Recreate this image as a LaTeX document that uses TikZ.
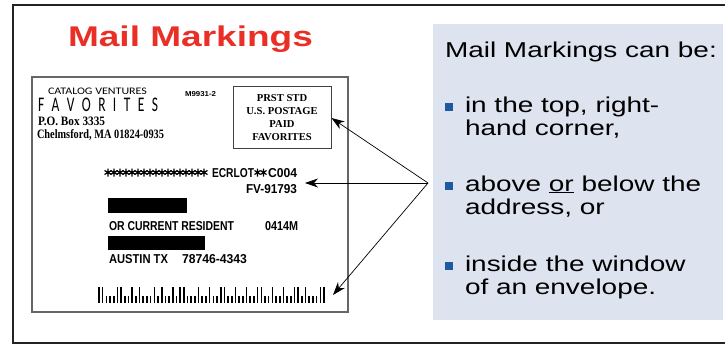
\documentclass[tikz,border=0pt]{standalone}
\usepackage{fontspec}
\setmainfont{Liberation Sans}
\newfontfamily\serifb{Liberation Serif}
\newfontfamily\optfont{Carlito}
\usetikzlibrary{arrows.meta,calc}
\definecolor{boxblue}{RGB}{221,227,239}
\definecolor{bulletblue}{RGB}{30,88,160}
\definecolor{titlered}{RGB}{234,48,38}
\definecolor{framegray}{RGB}{35,35,35}
\newcommand\wide[1]{\scalebox{1.3}[1]{#1}}
\newcommand\fitbox[3]{\resizebox{#1}{#2}{#3}}
\begin{document}
\begin{tikzpicture}[x=1pt,y=-1pt,
  lbl/.style={inner sep=0pt, outer sep=0pt, anchor=base west},
  rtext/.style={lbl, font=\fontsize{21.5}{24}\selectfont},
  bullet/.style={fill=bulletblue, minimum size=8pt, inner sep=0pt, outer sep=0pt},
  pointer/.style={draw=black, line width=0.7pt, -{Stealth[length=13pt,width=9pt,inset=4pt]}},
  astk/.style={line width=1.2pt}
]
\useasboundingbox (0,0) rectangle (725,345);

% outer frame
\draw[framegray, line width=2.6pt] (725,5) -- (13,5) -- (13,343) -- (725,343);

% title
\node[lbl, text=titlered, font=\bfseries\fontsize{28.5}{30}\selectfont] (title) at (68,47) {\wide{Mail Markings}};

% info box
\fill[boxblue] (433,24) rectangle (723,320);
\node[rtext] (head) at (445,57) {\wide{Mail Markings can be:}};
\node[rtext] (i1a) at (465,112) {\wide{in the top, right-}};
\node[rtext] (i1b) at (465,135) {\wide{hand corner,}};
\node[rtext] (i2a) at (465,191) {\wide{above \underline{or} below the}};
\node[rtext] (i2b) at (465,214) {\wide{address, or}};
\node[rtext] (i3a) at (465,271) {\wide{inside the window}};
\node[rtext] (i3b) at (465,294) {\wide{of an envelope.}};
\node[bullet] (b1) at (449,106.5) {};
\node[bullet] (b2) at (449,185.5) {};
\node[bullet] (b3) at (449,265.5) {};

% envelope
\draw[black!60, line width=1.2pt] (32,77) rectangle (348,312);
\node[draw=black!75, line width=0.9pt, minimum width=98pt, minimum height=62pt, inner sep=0pt] (stamp) at (282,117) {};
\node[lbl, anchor=base, font=\serifb\bfseries\fontsize{10.6}{12}\selectfont] (s1) at (282,101) {PRST STD};
\node[lbl, anchor=base, font=\serifb\bfseries\fontsize{10.6}{12}\selectfont] (s2) at (282,114) {U.S. POSTAGE};
\node[lbl, anchor=base, font=\serifb\bfseries\fontsize{10.6}{12}\selectfont] (s3) at (282,127) {PAID};
\node[lbl, anchor=base, font=\serifb\bfseries\fontsize{10.6}{12}\selectfont] (s4) at (282,140) {FAVORITES};

% return address
\node[lbl] (cat) at (48,94) {\fitbox{99pt}{6.5pt}{\optfont CATALOG VENTURES}};
\node[lbl] (fav) at (38,111) {\fitbox{120pt}{13.5pt}{\optfont F\kern.55em A\kern.55em V\kern.55em O\kern.55em R\kern.55em I\kern.55em T\kern.55em E\kern.55em S}};
\node[lbl] (pobox) at (38,125.5) {\fitbox{67pt}{8.5pt}{\serifb\bfseries P.O. Box 3335}};
\node[lbl] (city) at (37,138.5) {\fitbox{127pt}{9pt}{\serifb\bfseries Chelmsford, MA 01824-0935}};
\node[lbl] (code) at (185,96) {\fitbox{31pt}{5pt}{\bfseries M9931-2}};

% address block
\foreach \k in {0,...,16}{
  \pgfmathsetmacro\ax{108+\k*6}
  \draw[astk] (\ax,168.5) -- (\ax,176.5) (\ax-3.5,170.5) -- (\ax+3.5,174.5) (\ax-3.5,174.5) -- (\ax+3.5,170.5);
}
\node[lbl] (ecr) at (212,177) {\fitbox{42pt}{9pt}{\bfseries ECRLOT}};
\foreach \ax in {257.5,263.5}{
  \draw[astk] (\ax,168.5) -- (\ax,176.5) (\ax-3,170.5) -- (\ax+3,174.5) (\ax-3,174.5) -- (\ax+3,170.5);
}
\node[lbl] (c004) at (268,177) {\fitbox{29pt}{9pt}{\bfseries C004}};
\node[lbl] (fv) at (246,193) {\fitbox{51pt}{9pt}{\bfseries FV-91793}};
\fill (108,198) rectangle (187,213);
\node[lbl] (resident) at (109,230) {\fitbox{125pt}{9pt}{\bfseries OR CURRENT RESIDENT}};
\node[lbl] (rt) at (265,230) {\fitbox{33pt}{9pt}{\bfseries 0414M}};
\fill (108,236) rectangle (205,250);
\node[lbl] (austin) at (109,263) {\fitbox{59pt}{9pt}{\bfseries AUSTIN TX}};
\node[lbl] (zip) at (182,263) {\fitbox{65pt}{9pt}{\bfseries 78746-4343}};

% barcode
\foreach \b [count=\i from 0] in {1, 1,0,0,0,1, 1,0,0,1,0, 1,0,0,0,1, 0,1,0,0,1, 0,1,1,0,0, 0,1,0,0,1, 0,0,1,1,0, 0,1,0,0,1, 0,0,1,1,0, 0,1,0,0,1, 0,0,1,1,0, 1,0,0,0,1, 1}{
  \pgfmathsetmacro\bx{99+\i*3.689}
  \pgfmathsetmacro\by{\b==1 ? 287 : 295.5}
  \fill (\bx-0.8,\by) rectangle (\bx+0.8,303);
}

% pointers
\coordinate (hub) at (428,183);
\coordinate (t1) at ($(stamp.east)+(0,1)$);
\coordinate (t2) at (305,183);
\coordinate (t3) at (333,295);
\draw[pointer] (hub) -- (t2);
\draw[pointer] (hub) -- (t1);
\draw[pointer] (hub) -- (t3);
\end{tikzpicture}
\end{document}
